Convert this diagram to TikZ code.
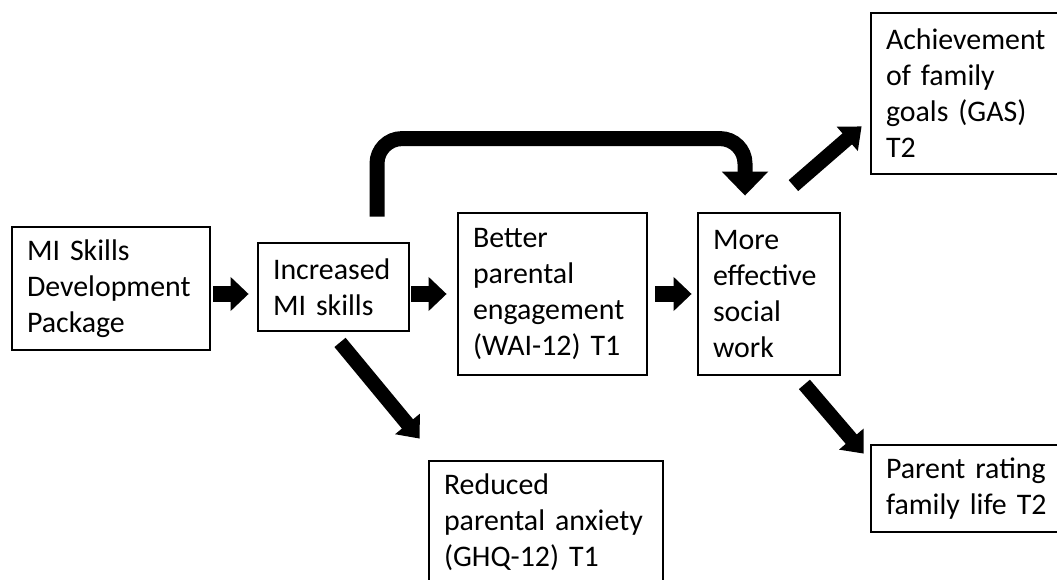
\documentclass[tikz,border=0pt]{standalone}
\usepackage{fontspec}
\setmainfont{Carlito}
\usetikzlibrary{arrows.meta,calc}
\definecolor{inkblack}{HTML}{000000}
\tikzset{
  stage/.style={draw=inkblack,line width=1.6pt,align=left,
    inner xsep=0.3cm,inner ysep=0pt,font=\fontsize{17}{20.5}\selectfont},
  fat/.style={draw=inkblack,line width=0.33cm,
    -{Triangle[length=0.36cm,width=0.66cm]}},
  bent/.style={draw=inkblack,line width=0.30cm,rounded corners=0.5cm,
    -{Triangle[length=0.48cm,width=0.90cm]}},
  slant/.style={draw=inkblack,line width=0.29cm,
    -{Triangle[length=0.38cm,width=0.62cm]}}
}

\begin{document}
\begin{tikzpicture}
  \useasboundingbox (0,0) rectangle (21.14,11.58);
  \clip (0,0) rectangle (21.14,11.58);
  % boxes
  \node[stage,text width=3.36cm,minimum height=2.46cm] (pkg) at (2.22,5.81)
    {MI Skills\\Development\\Package};
  \node[stage,text width=2.42cm,minimum height=1.76cm] (skills) at (6.67,5.84)
    {Increased\\MI skills};
  \node[stage,text width=3.18cm,minimum height=3.24cm] (engage) at (11.05,5.70)
    {Better\\parental\\engagement\\(WAI-12) T1};
  \node[stage,text width=2.24cm,minimum height=3.24cm] (social) at (15.38,5.70)
    {More\\effective\\social\\work};
  \node[stage,text width=3.24cm,minimum height=3.22cm] (goals) at (19.34,9.71)
    {Achievement\\of family\\goals (GAS)\\T2};
  \node[stage,text width=4.08cm,minimum height=2.46cm] (anxiety) at (10.92,1.13)
    {Reduced\\parental anxiety\\(GHQ-12) T1};
  \node[stage,text width=3.24cm,minimum height=1.74cm] (rating) at (19.34,1.81)
    {Parent rating\\family life T2};
  % main chain
  \draw[fat,shorten <=0.04cm,shorten >=0.16cm] (pkg.east |- engage.west) -- (skills.west |- engage.west);
  \draw[fat,shorten <=0.02cm,shorten >=0.20cm] (skills.east |- engage.west) -- (engage.west);
  \draw[fat,shorten <=0.14cm,shorten >=0.10cm] (engage.east) -- (social.west);
  % bypass over the top
  \draw[bent] ([xshift=0.87cm,yshift=0.50cm]skills.north) -- ++(0,1.56)
    -| ([xshift=-0.48cm,yshift=0.32cm]social.north);
  % outcomes
  \draw[slant] ([xshift=-0.96cm,yshift=0.52cm]social.north east) -- ([xshift=-0.16cm,yshift=0.98cm]goals.south west);
  \draw[slant] ([xshift=0.13cm,yshift=-0.20cm]skills.south) -- ([xshift=-0.16cm,yshift=0.42cm]anxiety.north west);
  \draw[slant] ([xshift=-0.74cm,yshift=-0.16cm]social.south east) -- ([xshift=-0.12cm,yshift=-0.20cm]rating.north west);
\end{tikzpicture}
\end{document}
